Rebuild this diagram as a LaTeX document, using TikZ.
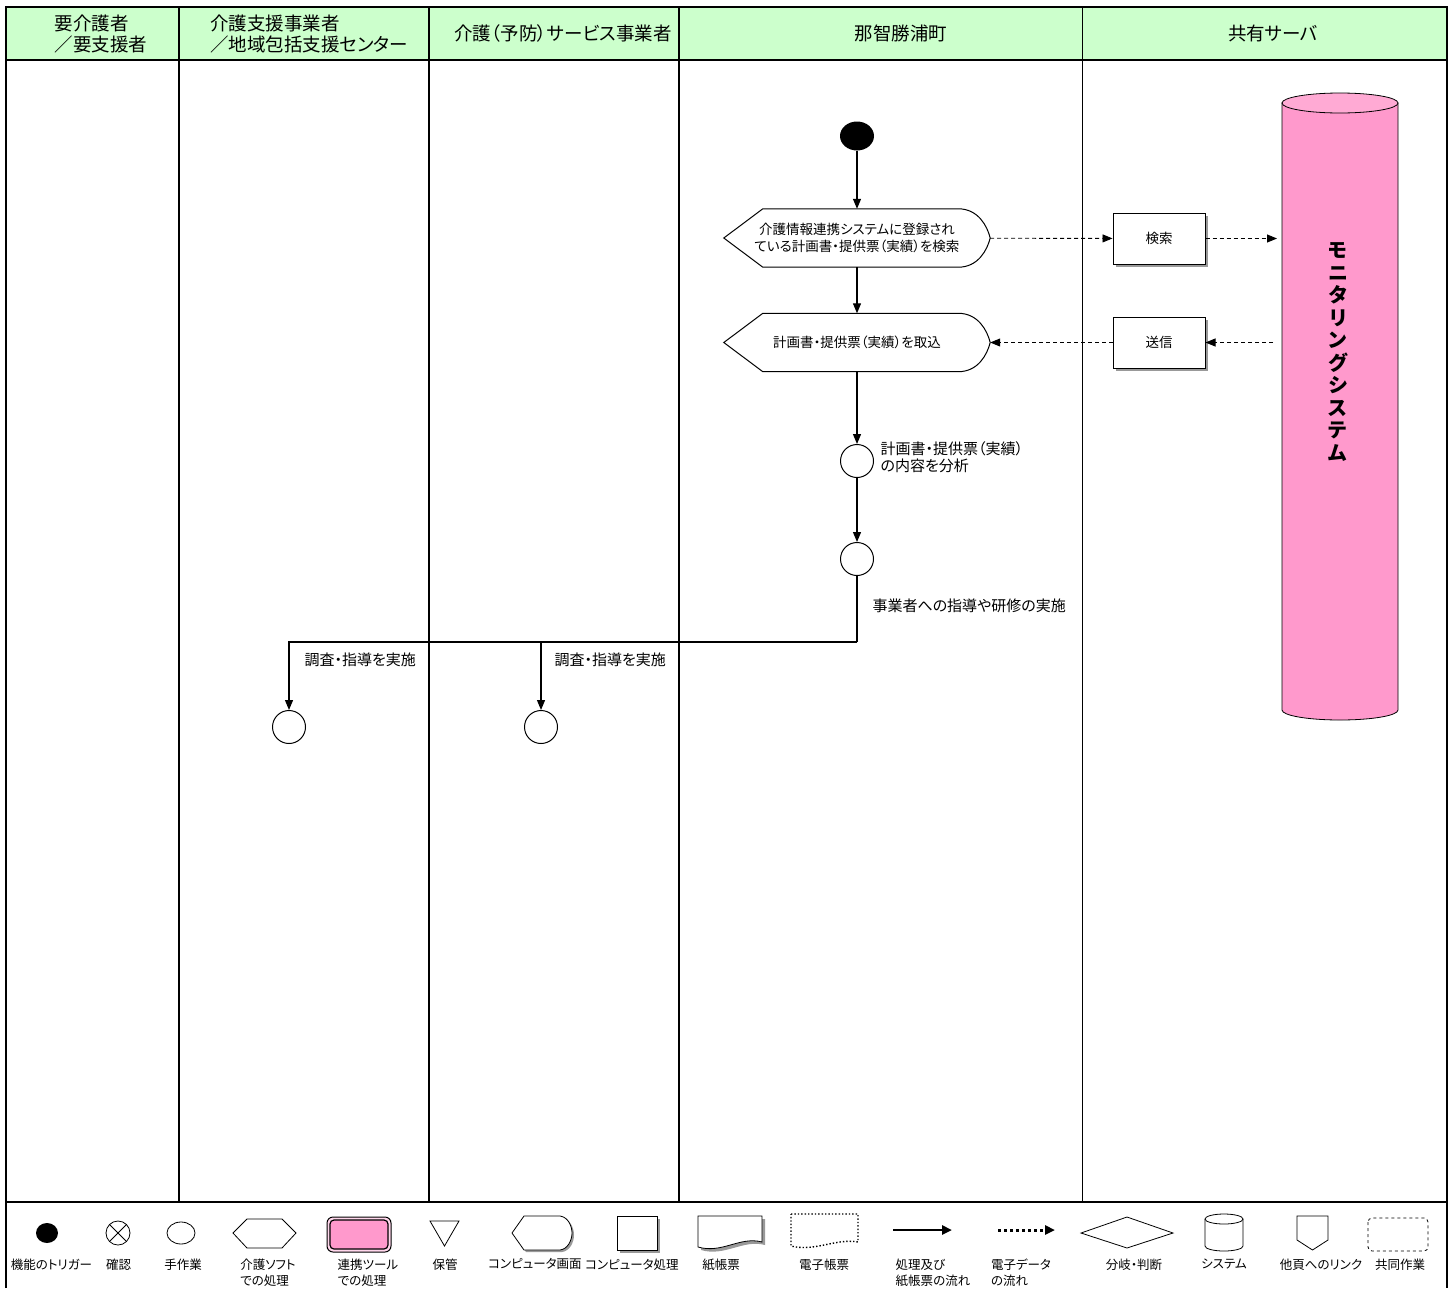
\documentclass[tikz,border=0pt]{standalone}
\usepackage{fontspec}
\setmainfont{Noto Sans CJK JP}[RawFeature=+palt]
\usetikzlibrary{arrows.meta,shapes.geometric,shadows,positioning}

\definecolor{headgreen}{HTML}{CCFFCC}
\definecolor{dbpink}{HTML}{FF99CC}
\definecolor{dbtop}{HTML}{FFAAD4}

\tikzset{
  frame/.style={line width=2.2pt},
  lane/.style={line width=2pt},
  flow/.style={line width=1.2pt,-{Triangle[length=10pt,width=8pt]}},
  data/.style={line width=0.9pt,dash pattern=on 4pt off 3pt,-{Triangle[length=10pt,width=8pt]}},
  act/.style={circle,draw,line width=1pt,minimum size=33pt,inner sep=0pt},
  screenbox/.style={minimum width=266pt,minimum height=58pt,inner sep=0pt,align=center,font=\fontsize{13.5}{16.5}\selectfont},
  sysbox/.style={draw,fill=white,line width=1pt,minimum width=92pt,minimum height=51pt,font=\fontsize{13.5}{16}\selectfont,
    drop shadow={opacity=1,fill=gray!80,shadow xshift=3pt,shadow yshift=-3pt}},
  note/.style={anchor=west,align=left,font=\fontsize{15}{17.5}\selectfont},
  head/.style={align=left,font=\fontsize{18.5}{21}\selectfont},
  key/.style={anchor=north,align=left,font=\fontsize{12.5}{16}\selectfont},
}

% outline of a "computer screen" node
\newcommand{\screenline}[1]{%
  \draw[line width=1pt] (#1.west) -- ([xshift=39pt]#1.north west) -- ([xshift=-32pt]#1.north east)
    .. controls ([xshift=-12pt]#1.north east) and ([xshift=-3pt,yshift=12pt]#1.east) .. (#1.east)
    .. controls ([xshift=-3pt,yshift=-12pt]#1.east) and ([xshift=-12pt]#1.south east) .. ([xshift=-32pt]#1.south east)
    -- ([xshift=39pt]#1.south west) -- cycle;}

\begin{document}
\begin{tikzpicture}[x=1pt,y=-1pt]
\useasboundingbox (0,0) rectangle (1456,1288);

% lanes and header
\fill[headgreen] (6,7) rectangle (1447,60);
\draw[frame] (6,1288) -- (6,7) -- (1447,7) -- (1447,1288);
\draw[lane] (6,60) -- (1447,60);
\draw[lane] (6,1202) -- (1447,1202);
\draw[lane] (179,7) -- (179,1202);
\draw[lane] (429,7) -- (429,1202);
\draw[lane] (679,7) -- (679,1202);
\draw[line width=0.8pt] (1082,7) -- (1082,1202);

\node[head] (h1) at (101,34) {要介護者\\／要支援者};
\node[head] (h2) at (309,34) {介護支援事業者\\／地域包括支援センター};
\node[head] (h3) at (563,33) {介護（予防）サービス事業者};
\node[head] (h4) at (901,33) {那智勝浦町};
\node[head] (h5) at (1273,33) {共有サーバ};

% shared server
\draw[fill=dbpink,line width=0.8pt] (1282,103) -- (1282,710) arc[start angle=180,end angle=0,x radius=58,y radius=10] -- (1398,103) -- cycle;
\draw[fill=dbtop,line width=0.8pt] (1340,103) ellipse[x radius=58,y radius=10];
\node[align=center,font=\fontsize{20}{22.5}\selectfont\bfseries] (dbname) at (1338,352)
  {モ\\ニ\\タ\\リ\\ン\\グ\\シ\\ス\\テ\\ム};
\coordinate (dbin) at (1277,238.5);
\coordinate (dbout) at (1273,342.5);

% town
\node[ellipse,fill=black,minimum width=34pt,minimum height=29pt,inner sep=0pt] (start) at (857,136) {};
\node[screenbox] (search) at (857,238) {介護情報連携システムに登録され\\ている計画書・提供票（実績）を検索};
\screenline{search}
\node[screenbox] (fetch) at (857,342.5) {計画書・提供票（実績）を取込};
\screenline{fetch}
\node[act] (analyze) at (857,461) {};
\node[note] (analyzetxt) at (877,457) {計画書・提供票（実績）\\の内容を分析};
\node[act] (guide) at (857,559) {};
\node[note] (guidetxt) at (869,606) {事業者への指導や研修の実施};
\coordinate (jn) at (857,642);

\node[sysbox] (kensaku) at (1159,238.5) {検索};
\node[sysbox] (soshin) at (1159,342.5) {送信};

% providers
\node[act] (chk1) at (289,727) {};
\node[note] (chk1txt) at (301,660) {調査・指導を実施};
\node[act] (chk2) at (541,727) {};
\node[note] (chk2txt) at (551,660) {調査・指導を実施};

\draw[flow] (start) -- (search);
\draw[flow] (search) -- (fetch);
\draw[flow] (fetch) -- (analyze);
\draw[flow] (analyze) -- (guide);
\draw[line width=1.2pt] (guide) -- (jn);
\draw[flow] (jn) -| (chk1);
\draw[flow] (jn) -| (chk2);
\draw[data] (search) -- (kensaku);
\draw[data] (kensaku) -- (dbin);
\draw[data] (dbout) -- (soshin);
\draw[data] (soshin) -- (fetch);

% legend
\fill (47,1233) ellipse[x radius=11,y radius=10];
\draw[line width=0.8pt] (118,1233) circle[radius=12];
\draw[line width=0.8pt] (109.5,1224.5) -- (126.5,1241.5) (126.5,1224.5) -- (109.5,1241.5);
\draw[line width=0.8pt] (181,1233) ellipse[x radius=14,y radius=11];
\draw[line width=0.8pt] (233,1233) -- (247,1219) -- (282,1219) -- (296,1233) -- (282,1248) -- (247,1248) -- cycle;
\draw[line width=1pt,rounded corners=6pt,fill=dbpink!40] (327,1217) rectangle (391,1252);
\draw[line width=1.2pt,rounded corners=4pt,fill=dbpink] (330,1220) rectangle (388,1249);
\draw[line width=0.8pt] (430,1221) -- (459,1221) -- (444.5,1246) -- cycle;
\fill[gray!80,shift={(2,2)}] (512,1233) -- (524,1216) -- (560,1216) .. controls (568,1217) and (572,1226) .. (572,1233)
  .. controls (572,1240) and (568,1249) .. (560,1250) -- (524,1250) -- cycle;
\draw[line width=0.8pt,fill=white] (512,1233) -- (524,1216) -- (560,1216) .. controls (568,1217) and (572,1226) .. (572,1233)
  .. controls (572,1240) and (568,1249) .. (560,1250) -- (524,1250) -- cycle;
\fill[gray!80] (620,1219) rectangle (660,1253);
\draw[line width=0.8pt,fill=white] (617,1216) rectangle (657,1250);
\fill[gray!80,shift={(3,3)}] (698,1216) -- (762,1216) -- (762,1242) .. controls (740,1236) and (722,1254) .. (698,1247) -- cycle;
\draw[line width=0.8pt,fill=white] (698,1216) -- (762,1216) -- (762,1242) .. controls (740,1236) and (722,1254) .. (698,1247) -- cycle;
\draw[line width=1.4pt,dotted] (791,1214) -- (858,1214) -- (858,1242) .. controls (836,1238) and (815,1252) .. (791,1246) -- cycle;
\draw[line width=2.5pt,-{Triangle[length=10pt,width=9pt]}] (893,1230) -- (952,1230);
\draw[line width=3pt,dash pattern=on 3pt off 3pt,-{Triangle[length=10pt,width=9pt]}] (998,1230) -- (1055,1230);
\draw[line width=0.8pt] (1081,1233) -- (1127,1217) -- (1173,1233) -- (1127,1248) -- cycle;
\draw[line width=0.8pt] (1205,1219) -- (1205,1246) arc[start angle=180,end angle=0,x radius=19,y radius=5] -- (1243,1219);
\draw[line width=0.8pt] (1224,1219) ellipse[x radius=19,y radius=5];
\draw[line width=0.8pt] (1297,1216) -- (1328,1216) -- (1328,1240) -- (1312.5,1250) -- (1297,1240) -- cycle;
\draw[line width=0.8pt,dashed,rounded corners=4pt] (1368,1218) rectangle (1428,1251);

\node[key] (k1) at (51.5,1255) {機能のトリガー};
\node[key] (k2) at (118.5,1255) {確認};
\node[key] (k3) at (183,1255) {手作業};
\node[key] (k4) at (268,1255) {介護ソフト\\での処理};
\node[key] (k5) at (368,1255) {連携ツール\\での処理};
\node[key] (k6) at (445,1255) {保管};
\node[key] (k7) at (535,1255) {コンピュータ画面};
\node[key] (k8) at (632,1255) {コンピュータ処理};
\node[key] (k9) at (721,1255) {紙帳票};
\node[key] (k10) at (824,1255) {電子帳票};
\node[key] (k11) at (933,1255) {処理及び\\紙帳票の流れ};
\node[key] (k12) at (1021,1255) {電子データ\\の流れ};
\node[key] (k13) at (1134,1255) {分岐・判断};
\node[key] (k14) at (1224,1255) {システム};
\node[key] (k15) at (1321,1255) {他頁へのリンク};
\node[key] (k16) at (1400,1255) {共同作業};
\end{tikzpicture}
\end{document}
